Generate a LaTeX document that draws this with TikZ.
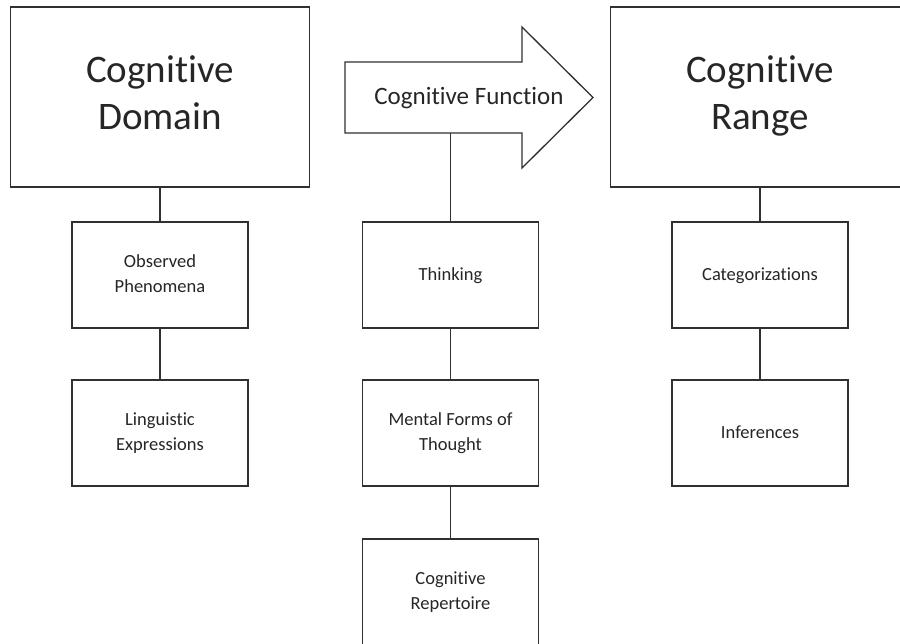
\documentclass[tikz,border=0pt]{standalone}
\usepackage{fontspec}
\setmainfont[Ligatures={NoCommon}]{Carlito}
\definecolor{ink}{HTML}{262626}
\definecolor{edge}{HTML}{303030}
\begin{document}
\begin{tikzpicture}[x=1pt,y=-1pt,
  every node/.style={text=ink},
  bigbox/.style={draw=edge,line width=1.3pt,fill=white,minimum width=299pt,minimum height=180pt,
    align=center,font=\fontsize{39}{47}\selectfont,inner sep=0pt},
  smallbox/.style={draw=edge,line width=1.3pt,fill=white,minimum width=176pt,minimum height=106pt,
    align=center,font=\fontsize{18.5}{25}\selectfont,inner sep=0pt},
  link/.style={draw=edge,line width=1.3pt}]
\useasboundingbox (0,0) rectangle (900,643);
\clip (0,0) rectangle (900,643);

% headline boxes
\node[bigbox] (dom) at (160,97) {\strut Cognitive\\\strut Domain};
\node[bigbox] (rng) at (760,97) {\strut Cognitive\\\strut Range};

% block arrow in the middle
\draw[draw=edge,line width=1.3pt,fill=white]
  (345,62) -- (522,62) -- (522,27) -- (593,97.5) -- (522,168) -- (522,133) -- (345,133) -- cycle;
\node[font=\fontsize{25}{30}\selectfont] (func) at (469,98) {\strut Cognitive Function};
\coordinate (fbase) at (450.5,133);

% left column
\node[smallbox] (obs) at (160,275) {\strut Observed\\\strut Phenomena};
\node[smallbox] (ling) at (160,433) {\strut Linguistic\\\strut Expressions};

% middle column
\node[smallbox] (thk) at (450.5,275) {\strut Thinking};
\node[smallbox] (mft) at (450.5,433) {\strut Mental Forms of\\\strut Thought};
\node[smallbox] (rep) at (450.5,592) {\strut Cognitive\\\strut Repertoire};

% right column
\node[smallbox] (cat) at (760,275) {\strut Categorizations};
\node[smallbox] (inf) at (760,433) {\strut Inferences};

% connectors
\draw[link] (dom.south) -- (obs.north);
\draw[link] (obs.south) -- (ling.north);
\draw[link] (fbase) -- (thk.north);
\draw[link] (thk.south) -- (mft.north);
\draw[link] (mft.south) -- (rep.north);
\draw[link] (rng.south) -- (cat.north);
\draw[link] (cat.south) -- (inf.north);
\end{tikzpicture}
\end{document}
